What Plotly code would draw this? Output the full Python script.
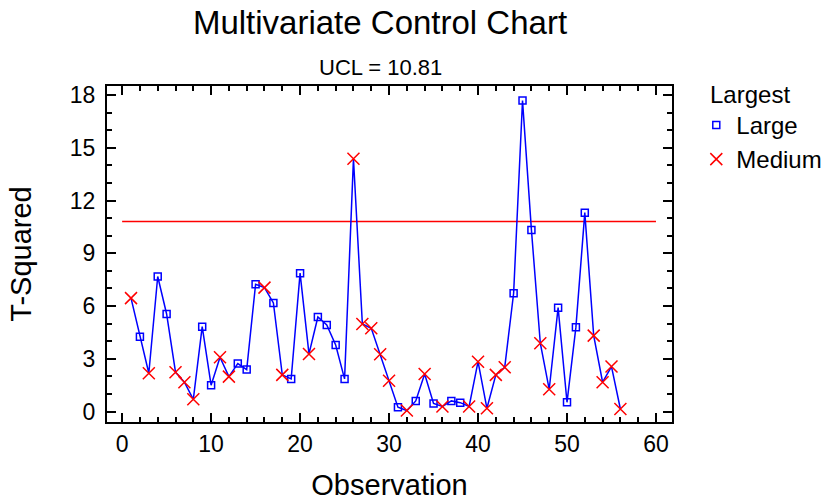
import plotly.graph_objects as go

observation = [1, 2, 3, 4, 5, 6, 7, 8, 9, 10, 11, 12, 13, 14, 15, 16, 17, 18, 19, 20,
               21, 22, 23, 24, 25, 26, 27, 28, 29, 30, 31, 32, 33, 34, 35, 36, 37, 38, 39, 40,
               41, 42, 43, 44, 45, 46, 47, 48, 49, 50, 51, 52, 53, 54, 55, 56]
t_squared = [6.45, 4.25, 2.18, 7.68, 5.55, 2.24, 1.67, 0.70, 4.83, 1.50,
             3.09, 1.99, 2.73, 2.39, 7.24, 7.05, 6.18, 2.09, 1.86, 7.87,
             3.28, 5.38, 4.93, 3.79, 1.86, 14.37, 4.98, 4.74, 3.26, 1.76,
             0.25, 0.06, 0.61, 2.14, 0.46, 0.29, 0.61, 0.51, 0.29, 2.84,
             0.19, 2.09, 2.52, 6.73, 17.68, 10.33, 3.89, 1.27, 5.91, 0.53,
             4.80, 11.31, 4.32, 1.67, 2.56, 0.15]
largest = ["Medium", "Large", "Medium", "Large", "Large", "Medium", "Medium", "Medium", "Large", "Large",
           "Medium", "Medium", "Large", "Large", "Large", "Medium", "Large", "Medium", "Large", "Large",
           "Medium", "Large", "Large", "Large", "Large", "Medium", "Medium", "Medium", "Medium", "Medium",
           "Large", "Medium", "Large", "Medium", "Large", "Medium", "Large", "Large", "Medium", "Medium",
           "Medium", "Medium", "Medium", "Large", "Large", "Large", "Medium", "Medium", "Large", "Large",
           "Large", "Large", "Medium", "Medium", "Medium", "Medium"]
ucl = 10.81
ucl_x = [0, 60]
x_ticks = [0, 10, 20, 30, 40, 50, 60]
y_ticks = [0, 3, 6, 9, 12, 15, 18]

FONT = "Arial, Liberation Sans, sans-serif"
BLUE = "#0000ff"
RED = "#ff0000"

fig = go.Figure()

# UCL line
fig.add_trace(go.Scatter(x=ucl_x, y=[ucl, ucl], mode="lines",
                         line=dict(color=RED, width=1.5), showlegend=False, hoverinfo="skip"))

# connecting line
fig.add_trace(go.Scatter(x=observation, y=t_squared, mode="lines",
                         line=dict(color=BLUE, width=1.5), showlegend=False))

styles = {
    "Large": dict(symbol="square-open", size=7, color=BLUE, line=dict(color=BLUE, width=1.5)),
    "Medium": dict(symbol="x-thin-open", size=12, color=RED, line=dict(color=RED, width=1.5)),
}
for cat in ["Large", "Medium"]:
    xs = [o for o, c in zip(observation, largest) if c == cat]
    ys = [v for v, c in zip(t_squared, largest) if c == cat]
    fig.add_trace(go.Scatter(x=xs, y=ys, mode="markers", name=cat, marker=styles[cat]))

axis_common = dict(
    showgrid=False, zeroline=False, showline=True, linecolor="black", linewidth=2,
    mirror="ticks", ticks="inside", tickcolor="black", tickwidth=1.5, ticklen=9,
    tickfont=dict(family=FONT, size=23, color="black"),
)

fig.update_xaxes(range=[-1.7, 61.8], tickvals=x_ticks, ticktext=[str(v) for v in x_ticks],
                 minor=dict(dtick=2, tick0=0, ticks="inside", ticklen=5, tickcolor="black", tickwidth=1.5),
                 title=dict(text="Observation", font=dict(family=FONT, size=29, color="black"), standoff=20),
                 **axis_common)
fig.update_yaxes(range=[-0.59, 18.51], tickvals=y_ticks, ticktext=[str(v) for v in y_ticks],
                 ticklabelstandoff=5,
                 minor=dict(dtick=1, tick0=0, ticks="inside", ticklen=5, tickcolor="black", tickwidth=1.5),
                 title=dict(text="T-Squared", font=dict(family=FONT, size=29, color="black"), standoff=30),
                 **axis_common)

fig.update_layout(
    width=824, height=501,
    margin=dict(l=107, r=152, t=86, b=79, autoexpand=False),
    paper_bgcolor="white", plot_bgcolor="white",
    title=dict(text="Multivariate Control Chart", x=380 / 824, xanchor="center", y=1 - 22.5 / 501, yanchor="middle",
               font=dict(family=FONT, size=33, color="black")),
    legend=dict(x=1.043, xanchor="left", y=0.95, yanchor="top", bgcolor="rgba(0,0,0,0)",
                font=dict(family=FONT, size=24, color="black"), tracegroupgap=0),
    annotations=[
        dict(text="UCL = 10.81", xref="paper", yref="paper", x=(380 - 107) / 565, y=1 + (86 - 67) / 336,
             xanchor="center", yanchor="middle", showarrow=False,
             font=dict(family=FONT, size=22, color="black")),
        dict(text="Largest", xref="paper", yref="paper", x=(708 - 107) / 565, y=(422 - 94) / 336,
             xanchor="left", yanchor="middle", showarrow=False,
             font=dict(family=FONT, size=24, color="black")),
    ],
)

# remove the default 8px body margin so the figure fills the 824x501 window exactly
fig.write_html("out.html", config={"displayModeBar": False},
               post_script="document.body.style.margin='0';")
